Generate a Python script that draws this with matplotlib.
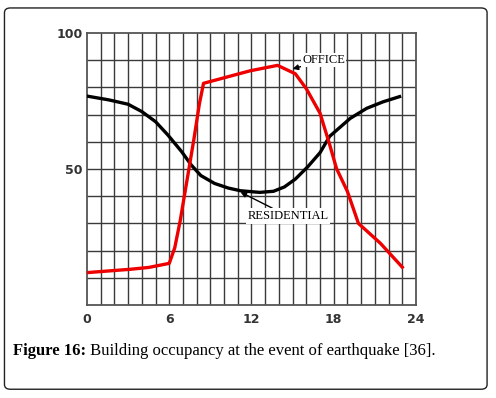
import matplotlib.pyplot as plt
from matplotlib.patches import FancyBboxPatch

# hours / occupancy (%)
office_h = [0, 3.1, 4.5, 6.0, 6.4, 6.8, 7.3, 7.8, 8.2, 8.5, 11.9, 13.9, 15.2, 16.0, 17.0, 17.7,
            18.2, 19.0, 19.8, 21.4, 23.0]
office_v = [11.9, 13.1, 13.8, 15.3, 21, 31, 46, 61, 74, 81.5, 86.1, 88.1, 85.0, 79.5, 70.5, 59,
            50.2, 41.7, 30.0, 22.7, 13.9]
resid_h = [0, 1.6, 3.0, 4.0, 5.0, 5.9, 6.9, 7.6, 8.3, 9.3, 10.3, 11.2, 12.6, 13.6, 14.4, 15.2,
           16.1, 17.0, 17.7, 19.2, 20.4, 21.6, 22.8]
resid_v = [76.8, 75.4, 73.8, 71.1, 67.4, 62.5, 56.4, 51.5, 47.6, 44.7, 43.0, 42.0, 41.4, 41.8,
           43.4, 46.3, 50.8, 56.0, 62.0, 68.6, 72.3, 74.7, 76.6]
x_ticks = [0, 6, 12, 18, 24]
y_ticks = [50, 100]

fig = plt.figure(figsize=(4.96, 3.98), dpi=100)

# rounded frame round chart and caption
frame = FancyBboxPatch((0.009, 0.022), 0.973, 0.958, boxstyle="round,pad=0,rounding_size=0.012",
                       transform=fig.transFigure, fill=False, edgecolor='#222222', linewidth=1.0)
fig.patches.append(frame)

ax = fig.add_axes([0.1754, 0.2337, 0.6633, 0.6834])
ax.set_xlim(0, 24)
ax.set_ylim(0, 100)

grid_c = '#3a3a3a'
for h in range(1, 24):
    ax.axvline(h, color=grid_c, linewidth=1.0, zorder=1)
for v in range(10, 100, 10):
    ax.axhline(v, color=grid_c, linewidth=1.0, zorder=1)
for s in ax.spines.values():
    s.set_color('#555555')
    s.set_linewidth(1.3)

ax.plot(resid_h, resid_v, color='black', linewidth=2.4, zorder=3, solid_joinstyle='round')
ax.plot(office_h, office_v, color='#ee0000', linewidth=2.4, zorder=3, solid_joinstyle='round')

ax.set_xticks(x_ticks)
ax.set_yticks(y_ticks)
ax.set_xticklabels([str(t) for t in x_ticks], fontsize=9, fontweight='bold', color='#333333')
ax.set_yticklabels([str(t) for t in y_ticks], fontsize=9, fontweight='bold', color='#333333')
ax.tick_params(length=0, pad=3)
ax.tick_params(axis='x', pad=6)

ax.annotate('OFFICE', xy=(15.0, 86.8), xytext=(15.7, 90), fontsize=9, family='Liberation Serif',
            va='center', ha='left',
            bbox=dict(boxstyle='square,pad=0.1', fc='white', ec='none'),
            arrowprops=dict(arrowstyle='-|>', color='black', lw=1, shrinkA=0, shrinkB=0,
                            mutation_scale=8), zorder=5)
ax.annotate('RESIDENTIAL', xy=(11.2, 41.5), xytext=(11.7, 32.7), fontsize=9, family='Liberation Serif',
            va='center', ha='left',
            bbox=dict(boxstyle='square,pad=0.15', fc='white', ec='none'),
            arrowprops=dict(arrowstyle='-|>', color='black', lw=1, shrinkA=0, shrinkB=0,
                            mutation_scale=8), zorder=5)

# caption: bold label, then plain text right after it
cap1 = fig.text(0.026, 0.108, 'Figure 16:', fontsize=12, fontweight='bold',
                family='Liberation Serif', va='baseline', ha='left')
fig.add_artist(plt.Annotation(' Building occupancy at the event of earthquake [36].', xy=(1, 0),
                              xycoords=cap1, va='bottom', ha='left', fontsize=12,
                              family='Liberation Serif'))

fig.savefig('out.png', dpi=100)
